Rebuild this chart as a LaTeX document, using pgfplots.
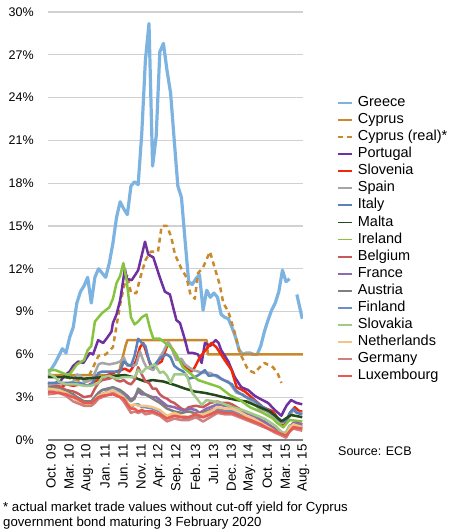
\documentclass[border=0pt]{standalone}
\usepackage{fontspec}
\setmainfont{Liberation Sans}
\usepackage{pgfplots}
\pgfplotsset{compat=1.18}
\definecolor{cGR}{HTML}{7DB3E0}
\definecolor{cCY}{HTML}{C98A2F}
\definecolor{cPT}{HTML}{7030A0}
\definecolor{cSI}{HTML}{F0280A}
\definecolor{cES}{HTML}{A6A6A6}
\definecolor{cIT}{HTML}{5B80BA}
\definecolor{cMT}{HTML}{234A1A}
\definecolor{cIE}{HTML}{86C440}
\definecolor{cBE}{HTML}{C8595A}
\definecolor{cFR}{HTML}{8C6BB0}
\definecolor{cAT}{HTML}{7F7F7F}
\definecolor{cFI}{HTML}{6D8FC7}
\definecolor{cSK}{HTML}{A3C98A}
\definecolor{cNL}{HTML}{F4C485}
\definecolor{cDE}{HTML}{D07F7C}
\definecolor{cLU}{HTML}{E85A50}
\begin{document}
\fontsize{12.5}{14}\selectfont
\begin{tikzpicture}[x=1pt,y=1pt]
\path[use as bounding box] (-48,-90) rectangle (402,440);
\begin{axis}[
  at={(0,0)}, anchor=south west,
  scale only axis, width=255pt, height=428pt,
  xmin=0, xmax=70.7, ymin=0, ymax=30,
  axis x line*=bottom, axis y line*=left,
  x axis line style={color=gray, line width=1.4pt, -},
  y axis line style={draw=none},
  xtick={0,5,...,70},
  xticklabels={Oct. 09,Mar. 10,Aug. 10,Jan. 11,Jun. 11,Nov. 11,Apr. 12,Sep. 12,Feb. 13,Jul. 13,Dec. 13,May. 14,Oct. 14,Mar. 15,Aug. 15},
  xticklabel style={rotate=90, anchor=east, yshift=-3pt, font=\fontsize{13.3}{14}\selectfont},
  ytick={0,3,...,30},
  yticklabel={\pgfmathprintnumber[assume math mode=true]{\tick}\%},
  yticklabel style={anchor=east, xshift=-10pt, font=\fontsize{12.5}{14}\selectfont},
  tick style={draw=none},
  ymajorgrids, grid style={color=black!18, line width=1.3pt},
  unbounded coords=jump,
  every axis plot/.append style={line width=2.5pt, line join=round},
  legend cell align=left,
  legend image code/.code={\draw[#1, line width=1.8pt] (0pt,0pt) -- (14pt,0pt);},
  legend style={draw=none, fill=none, at={(1.135,0.808)}, anchor=north west,
    inner sep=0pt, outer sep=0pt, row sep=0pt, column sep=3pt,
    nodes={inner sep=1.65pt, text height=10.5pt, text depth=3.3pt},
    font=\fontsize{14.5}{16}\selectfont},
]
% Greece
\addplot[cGR, line width=3.2pt] coordinates {(0,4.7)(1,5.0)(2,5.4)(3,5.9)(4,6.4)(5,6.1)(6,7.2)(7,7.9)(8,9.6)(9,10.4)(10,10.8)(11,11.4)(12,9.6)(13,11.4)(14,12.0)(15,11.7)(16,11.4)(17,12.4)(18,13.8)(19,15.6)(20,16.7)(21,16.2)(22,15.8)(23,17.8)(24,18.1)(25,17.9)(26,21.5)(27,26.6)(28,29.2)(29,19.2)(30,21.3)(31,27.2)(32,27.8)(33,25.9)(34,24.3)(35,21.0)(36,17.8)(37,17.0)(38,14.0)(39,11.1)(40,10.9)(41,11.3)(42,11.6)(43,9.1)(44,10.5)(45,10.0)(46,10.3)(47,10.0)(48,8.8)(49,8.6)(50,8.5)(51,7.9)(52,7.2)(53,6.3)(54,6.0)(55,6.1)(56,6.1)(57,6.0)(58,6.0)(59,6.6)(60,7.6)(61,8.4)(62,9.1)(63,9.6)(64,10.4)(65,11.9)(66,11.1)(67,11.3)(68,nan)(69,10.2)(70.5,8.5)};
\addlegendentry{Greece}
% Cyprus
\addplot[cCY] coordinates {(0,4.55)(19.5,4.55)(20.5,5.6)(21.5,6.6)(22,7.0)(44,7.0)(44.3,6.0)(70.7,6.0)};
\addlegendentry{Cyprus}
% Cyprus real
\addplot[cCY, dash pattern=on 5pt off 4pt] coordinates {(5,4.4)(8,4.2)(10,4.1)(11,4.3)(12.5,5.1)(14,5.9)(16,6.0)(18,6.5)(19,8.0)(20,9.5)(21,10.7)(22,11.6)(23,10.3)(24.5,10.3)(25.5,11.3)(27,12.6)(28.5,13.2)(30.5,13.2)(31.5,15.0)(33,15.0)(34.2,14.2)(35.2,13.0)(37,12.0)(38.4,11.4)(39.5,10.2)(40.7,9.9)(41.6,11.7)(43,12.1)(44.9,13.2)(46.3,12.0)(47.6,10.9)(48.6,9.6)(50,9.0)(51.8,7.5)(53.2,6.1)(55.5,4.9)(57.3,4.7)(58.7,5.1)(60,5.4)(62.4,5.1)(63.8,4.6)(64.7,4.0)};
\addlegendentry{Cyprus (real)*}
% Portugal
\addplot[cPT] coordinates {(0,3.9)(2,4.0)(3.3,4.1)(5,4.6)(6,4.8)(7,5.2)(8.4,5.5)(9.8,5.4)(11.6,6.1)(12.5,6.0)(13.9,7.0)(15.3,6.8)(16.5,7.2)(17.6,7.6)(18,8.2)(19,8.8)(20,9.8)(20.5,10.6)(21.3,12.0)(21.9,11.3)(23.2,11.2)(24.5,11.7)(25,11.9)(26.9,13.9)(27.8,13.0)(29.2,12.8)(31,11.4)(32.4,10.4)(33.8,10.2)(35.6,8.4)(36.6,8.2)(38,7.0)(38.9,6.1)(40.2,6.1)(41.6,6.0)(42.6,5.4)(43.5,6.8)(45,6.6)(46.5,7.0)(47.3,6.8)(48,6.3)(50,5.5)(51.8,4.4)(53.6,3.7)(55.5,3.5)(57.3,3.1)(58.7,2.9)(61,2.6)(62.9,2.1)(64.7,1.7)(66.1,2.4)(67.4,2.8)(68.9,2.6)(70.5,2.5)};
\addlegendentry{Portugal}
% Slovenia
\addplot[cSI] coordinates {(0,4.0)(1,3.9)(3,3.6)(5,3.9)(7,3.8)(9,3.9)(11,3.8)(13,4.1)(15.3,4.4)(17,4.6)(19,4.8)(21.3,5.0)(22.7,4.8)(23.5,5.1)(24.5,5.6)(25.5,6.5)(26.4,6.8)(27.3,6.1)(28.7,5.0)(30.1,5.3)(31.5,5.5)(33.3,6.8)(34.7,6.3)(36,5.7)(37.4,5.4)(38.5,5.0)(39.8,4.8)(40.7,5.1)(42.1,5.8)(44,6.4)(45.3,6.8)(46.7,6.5)(49,5.6)(50.9,4.9)(52.3,3.7)(54.6,3.4)(57.3,2.8)(59.6,2.3)(62.4,2.0)(63.5,1.6)(65.2,0.9)(66.6,1.6)(68.4,2.3)(69.8,2.0)(70.5,2.0)};
\addlegendentry{Slovenia}
% Spain
\addplot[cES] coordinates {(0,3.8)(3,4.0)(5,3.9)(7,4.1)(8,4.6)(9,4.5)(10,4.1)(11,4.1)(12,4.2)(13,4.7)(14,5.3)(15,5.4)(17,5.3)(19,5.4)(20,5.5)(21,5.8)(22,5.2)(23.5,5.2)(24.5,5.3)(25.5,6.2)(26.5,5.5)(27.3,5.1)(29.2,4.9)(31,5.8)(32,6.2)(33.3,6.9)(34,6.6)(35.6,5.6)(37,5.7)(38,5.3)(40.2,4.9)(43,4.7)(45,4.7)(47,4.4)(48.6,4.2)(50,4.1)(52.3,3.3)(54,3.2)(56.9,2.6)(58.5,2.2)(60.6,2.0)(62.5,1.6)(64.7,1.2)(66.6,1.5)(68,2.1)(69,1.9)(70.5,1.9)};
\addlegendentry{Spain}
% Italy
\addplot[cIT] coordinates {(0,4.0)(3,4.0)(5,4.0)(7,4.0)(9,4.0)(10,3.9)(11,3.8)(12,3.9)(13,4.3)(14,4.7)(15,4.8)(17,4.8)(19,4.8)(20,4.8)(21,5.5)(22,5.3)(23,5.2)(24,5.9)(25,7.1)(26,6.8)(27,6.6)(28,5.6)(29,5.1)(30,5.4)(31,5.7)(32,5.9)(33,6.0)(34,5.8)(35,5.2)(36,5.0)(37.5,4.8)(39,4.3)(40.7,4.4)(42,4.6)(43.5,4.9)(44.5,4.5)(46.3,4.55)(47,4.5)(48,4.3)(49.5,4.1)(51,3.9)(52,3.5)(53,3.3)(55,3.0)(57,2.8)(59,2.4)(61,2.1)(63,1.7)(65,1.3)(66,1.3)(67,1.9)(68,2.2)(69,1.9)(70.5,1.8)};
\addlegendentry{Italy}
% Malta
\addplot[cMT] coordinates {(0,4.4)(5,4.4)(10,4.3)(15,4.4)(19,4.5)(21.3,4.55)(23.7,4.4)(26.9,4.1)(29,4.2)(32,4.1)(35.2,3.85)(38,3.6)(40.7,3.4)(43.5,3.3)(46.3,3.15)(48.6,3.0)(52.3,2.8)(55,2.7)(58.7,2.3)(61.5,2.0)(63,1.7)(64.7,1.3)(67.4,1.75)(70.5,1.6)};
\addlegendentry{Malta}
% Ireland
\addplot[cIE] coordinates {(0,4.9)(2,4.9)(3,4.8)(5,4.6)(6,4.6)(8,5.3)(10,5.6)(11,6.3)(12,6.6)(13,8.3)(14,8.6)(15,8.9)(16,9.1)(17,9.3)(18,9.9)(19,11.0)(20,11.5)(20.9,12.4)(21.8,11.2)(23,8.6)(24,8.1)(25,8.3)(26,8.6)(27.3,8.8)(28.3,7.8)(29.2,7.1)(31,7.1)(32.5,6.8)(34,6.5)(35.6,6.0)(37.4,5.1)(39.3,4.7)(41.6,4.2)(44,4.0)(47.6,3.7)(50.4,3.15)(53.2,2.8)(56,2.3)(59.6,1.9)(62.4,1.5)(63.5,1.2)(65.2,0.9)(67,1.4)(70.5,1.3)};
\addlegendentry{Ireland}
% Belgium
\addplot[cBE] coordinates {(0,3.7)(3,3.8)(5,3.5)(7,3.4)(8,3.3)(10,3.0)(12,3.1)(13,3.6)(14,4.0)(15,4.2)(17,4.3)(18,4.4)(19,4.2)(20,4.1)(21,4.2)(22,4.0)(23,3.9)(24,4.2)(25,5.1)(26,4.6)(27,4.1)(28,4.0)(29,3.6)(30,3.6)(31,3.2)(32,3.0)(33,2.9)(34,2.7)(35,2.6)(36,2.4)(37,2.2)(38,2.1)(39,2.3)(41,2.4)(43,2.3)(45,2.6)(47,2.7)(48,2.6)(50,2.6)(51,2.5)(53,2.2)(55,1.9)(57,1.7)(59,1.4)(61,1.1)(63,0.8)(65,0.5)(66,0.5)(67,1.0)(69,1.2)(70.5,1.1)};
\addlegendentry{Belgium}
% France
\addplot[cFR] coordinates {(0,3.6)(3,3.5)(5,3.4)(7,3.1)(8,3.0)(10,2.7)(12,2.7)(13,3.0)(14,3.3)(15,3.5)(17,3.6)(18,3.6)(20,3.4)(21,3.3)(22,3.1)(23,2.8)(24,3.0)(25,3.4)(26,3.2)(27,3.2)(29,3.0)(30,3.0)(31,2.8)(33,2.4)(35,2.3)(36,2.2)(38,2.0)(39,2.2)(41,2.1)(42,1.9)(44,2.2)(46,2.4)(47,2.5)(49,2.4)(51,2.3)(52,2.2)(54,2.0)(56,1.8)(58,1.5)(60,1.3)(62,0.9)(63,0.7)(65,0.5)(66,0.4)(67,0.9)(68,1.2)(70.5,1.1)};
\addlegendentry{France}
% Austria
\addplot[cAT] coordinates {(0,3.7)(3,3.6)(5,3.4)(7,3.2)(8,3.0)(10,2.7)(12,2.7)(13,3.0)(14,3.3)(15,3.5)(18,3.7)(20,3.5)(21,3.3)(22,3.0)(23,2.7)(24,2.9)(25,3.6)(26,3.4)(27,3.2)(29,2.9)(31,2.6)(33,2.2)(35,2.0)(37,1.9)(39,2.0)(42,1.8)(44,2.0)(46,2.2)(48,2.2)(50,2.1)(52,1.9)(54,1.6)(56,1.5)(58,1.2)(60,1.0)(62,0.8)(63,0.6)(65,0.35)(66,0.3)(67,0.8)(68,1.0)(70.5,0.95)};
\addlegendentry{Austria}
% Finland
\addplot[cFI] coordinates {(0,3.6)(3,3.5)(5,3.3)(7,3.0)(8,2.8)(10,2.6)(12,2.5)(13,2.8)(14,3.1)(15,3.2)(18,3.6)(20,3.3)(21,3.1)(22,2.6)(23,2.3)(24,2.5)(25,2.5)(26,2.3)(27,2.3)(29,2.2)(31,2.0)(33,1.6)(35,1.7)(37,1.6)(39,1.5)(41,1.6)(43,1.6)(45,1.8)(47,2.1)(49,2.0)(51,2.0)(53,1.8)(55,1.6)(57,1.3)(59,1.0)(61,0.8)(63,0.6)(65,0.3)(66,0.2)(67,0.7)(68,1.0)(70.5,0.9)};
\addlegendentry{Finland}
% Slovakia
\addplot[cSK] coordinates {(0,4.7)(2,4.4)(3,4.1)(5,3.9)(8,3.9)(10,3.8)(12,3.8)(14,4.0)(15,4.4)(17,4.5)(19,4.3)(21,4.4)(23,4.4)(24,4.4)(25,4.9)(26,4.7)(27,5.0)(28,5.1)(29.6,5.3)(31,4.7)(32,4.8)(33,4.5)(34,4.0)(35,4.6)(38.4,4.6)(40,3.3)(41.6,2.8)(42.6,2.45)(44,2.8)(46,2.7)(48,2.6)(51,2.3)(54,2.1)(57,1.8)(60,1.5)(63,1.0)(65,0.5)(66,0.5)(67,1.0)(70.5,0.9)};
\addlegendentry{Slovakia}
% Netherlands
\addplot[cNL] coordinates {(0,3.6)(3,3.5)(5,3.3)(7,3.0)(8,2.8)(10,2.5)(12,2.5)(13,2.8)(14,3.1)(15,3.2)(18,3.5)(20,3.2)(21,3.0)(22,2.6)(23,2.4)(24,2.5)(25,2.4)(26,2.4)(27,2.4)(29,2.3)(31,2.1)(33,1.7)(35,1.9)(37,1.7)(39,1.6)(41,1.8)(43,1.8)(45,2.0)(47,2.3)(49,2.2)(51,2.2)(53,2.0)(55,1.7)(57,1.5)(59,1.2)(61,0.9)(63,0.6)(65,0.4)(66,0.3)(67,0.8)(68,1.1)(70.5,0.9)};
\addlegendentry{Netherlands}
% Germany
\addplot[cDE] coordinates {(0,3.2)(3,3.3)(5,3.1)(7,2.7)(8,2.6)(10,2.4)(12,2.4)(13,2.6)(14,2.9)(15,3.0)(18,3.3)(20,3.0)(21,2.7)(22,2.3)(23,1.9)(24,2.0)(25,1.9)(26,2.0)(27,1.8)(29,1.9)(31,1.7)(33,1.3)(35,1.5)(37,1.4)(39,1.4)(41,1.6)(43,1.3)(45,1.6)(47,1.9)(49,1.8)(51,1.8)(53,1.6)(55,1.4)(57,1.2)(59,1.0)(61,0.8)(63,0.5)(65,0.3)(66,0.16)(67,0.6)(68,0.8)(70.5,0.65)};
\addlegendentry{Germany}
% Luxembourg
\addplot[cLU] coordinates {(0,3.4)(3,3.3)(5,3.2)(7,3.0)(8,2.9)(10,2.6)(12,2.6)(13,2.8)(14,3.0)(15,3.1)(18,3.2)(20,3.0)(21,2.9)(22,2.5)(23,2.2)(24,2.2)(25,2.0)(26,2.1)(27,2.0)(29,2.0)(31,1.8)(33,1.5)(35,1.7)(37,1.6)(39,1.6)(41,1.8)(43,1.6)(45,1.8)(47,2.0)(49,1.9)(51,1.9)(53,1.7)(55,1.5)(57,1.3)(59,1.1)(61,0.8)(63,0.6)(65,0.4)(66,0.3)(67,0.6)(68,0.9)(70.5,0.8)};
\addlegendentry{Luxembourg}
\end{axis}
\node[anchor=base west, inner sep=0pt] at (290,-16) {Source: ECB};
\node[anchor=base west, inner sep=0pt, font=\fontsize{13.2}{15}\selectfont] at (-45,-71) {* actual market trade values without cut-off yield for Cyprus};
\node[anchor=base west, inner sep=0pt, font=\fontsize{13.2}{15}\selectfont] at (-45,-86) {government bond maturing 3 February 2020};
\end{tikzpicture}
\end{document}
